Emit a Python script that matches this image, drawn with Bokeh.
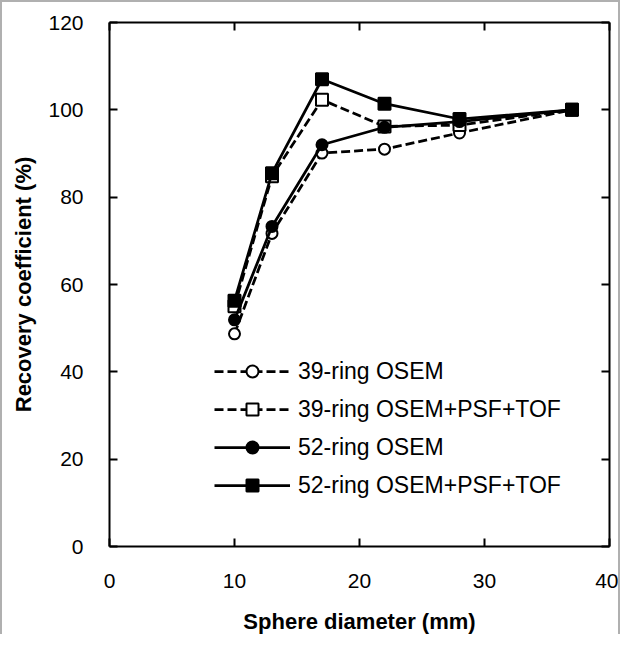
from bokeh.plotting import figure
from bokeh.models import LinearAxis, FixedTicker, Legend, LegendItem, Range1d
from bokeh.embed import file_html
from bokeh.resources import INLINE

# ---- data ----
diameters = [10, 13, 17, 22, 28, 37]
osem_39 = [48.7, 71.7, 90.1, 91.0, 94.7, 100.0]
psf_tof_39 = [55.0, 84.8, 102.3, 96.2, 96.5, 100.0]
osem_52 = [51.9, 73.3, 92.0, 96.0, 97.3, 100.0]
psf_tof_52 = [56.3, 85.5, 107.0, 101.4, 97.9, 100.0]

series_labels = ["39-ring OSEM", "39-ring OSEM+PSF+TOF", "52-ring OSEM", "52-ring OSEM+PSF+TOF"]
x_ticks = [0, 10, 20, 30, 40]
y_ticks = [0, 20, 40, 60, 80, 100, 120]

FONT = "Liberation Sans"

p = figure(width=620, height=634,
           x_range=Range1d(0, 40), y_range=Range1d(0, 120),
           output_backend="svg", toolbar_location=None,
           min_border_left=107, min_border_right=13,
           min_border_top=20, min_border_bottom=90,
           x_axis_label="Sphere diameter (mm)",
           y_axis_label="Recovery coefficient (%)")
p.styles = {"border-top": "2px solid #b0b0b0",
            "border-left": "2px solid #b0b0b0",
            "border-right": "2px solid #b0b0b0"}
p.outline_line_color = None
p.xgrid.visible = False
p.ygrid.visible = False
p.background_fill_color = "white"
p.border_fill_color = "white"

def style_axis(ax, ticks, show_labels, standoff):
    ax.ticker = FixedTicker(ticks=ticks)
    ax.axis_line_color = "black"
    ax.axis_line_width = 2
    ax.major_tick_line_color = "black"
    ax.major_tick_line_width = 2
    ax.major_tick_in = 8
    ax.major_tick_out = 0
    ax.minor_tick_line_color = None
    ax.major_label_text_font = FONT
    if show_labels:
        ax.major_label_text_color = "black"
        ax.major_label_text_font_size = "21px"
        ax.major_label_standoff = standoff
    else:
        ax.major_label_text_color = None
        ax.major_label_text_font_size = "1px"
        ax.major_label_standoff = 0
    ax.axis_label_text_font = FONT
    ax.axis_label_text_font_size = "22px"
    ax.axis_label_text_font_style = "bold"
    ax.axis_label_text_color = "black"

style_axis(p.xaxis[0], x_ticks, True, 27)
p.xaxis[0].axis_label_standoff = 18
style_axis(p.yaxis[0], y_ticks, True, 26)
p.yaxis[0].axis_label_standoff = 9

top = LinearAxis()
style_axis(top, x_ticks, False, 0)
p.add_layout(top, "above")
right = LinearAxis()
style_axis(right, y_ticks, False, 0)
p.add_layout(right, "right")

items = []
specs = [
    (osem_39, "dashed", "circle", "white", 11),
    (psf_tof_39, "dashed", "square", "white", 12),
    (osem_52, "solid", "circle", "black", 11),
    (psf_tof_52, "solid", "square", "black", 12),
]
for (vals, dash, marker, fill, size), label in zip(specs, series_labels):
    lr = p.line(diameters, vals, line_color="black", line_width=2.75,
                line_dash="9 4" if dash == "dashed" else "solid")
    sr = p.scatter(diameters, vals, marker=marker, size=size,
                   fill_color=fill, line_color="black", line_width=2)
    items.append(LegendItem(label=label, renderers=[lr, sr]))

legend = Legend(items=items, location=(105, 46))
legend.border_line_color = None
legend.background_fill_alpha = 0
legend.padding = 0
legend.margin = 0
legend.spacing = 8
legend.glyph_width = 76
legend.glyph_height = 30
legend.label_height = 30
legend.label_standoff = 8
legend.label_text_font = FONT
legend.label_text_font_size = "23px"
legend.label_text_color = "black"
p.add_layout(legend, "center")

open("out.html", "w").write(file_html(p, INLINE))
